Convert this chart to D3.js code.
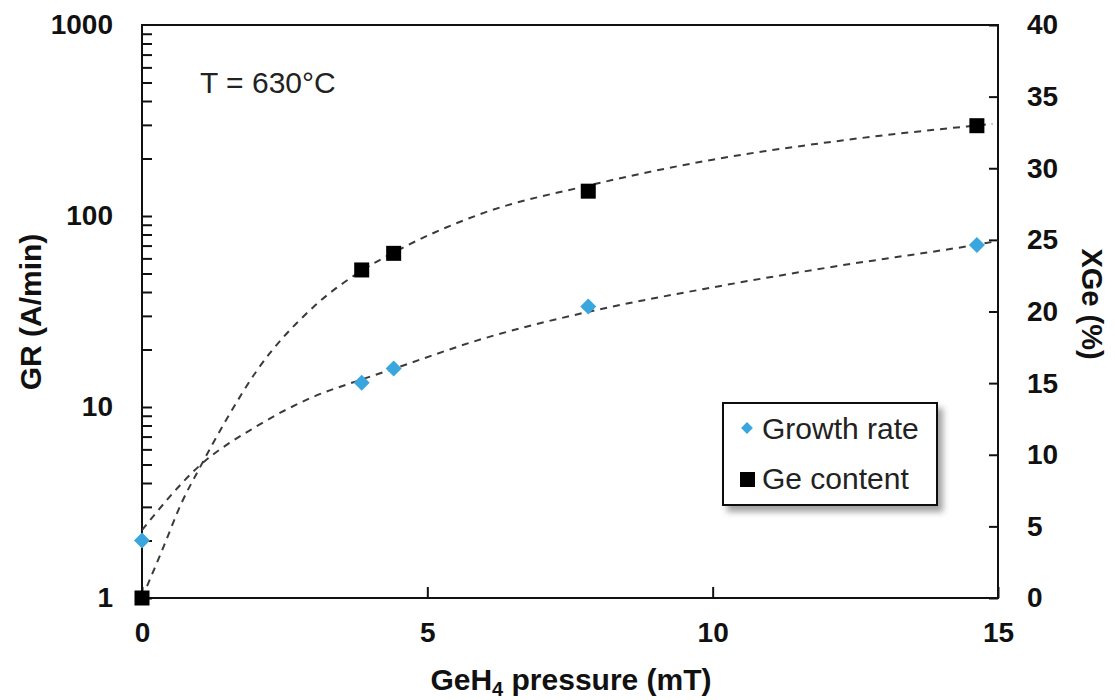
<!DOCTYPE html>
<html><head><meta charset="utf-8">
<script src="https://cdn.jsdelivr.net/npm/d3@7"></script>
<style>body{margin:0;background:#fff}</style>
</head><body><svg id="c" width="1115" height="700"></svg>
<script>
// ---- data ----
const pressure = [0, 3.85, 4.41, 7.82, 14.63];          // GeH4 pressure (mT)
const growthRate = [2.0, 13.4, 15.9, 33.6, 70.5];       // GR (A/min)
const geContent = [0, 22.9, 24.06, 28.4, 32.97];        // XGe (%)
// dashed guide curves
const grTrendX = [0, 1, 2, 3, 3.84, 4.42, 6, 7.8, 10, 12, 14.63, 15];
const grTrendY = [2.27, 4.9, 7.9, 11.3, 13.9, 15.9, 22.9, 31.4, 42.3, 53.6, 70.8, 74];
const geTrendX = [0, 0.35, 0.7, 1, 1.5, 2, 3, 3.87, 4.4, 6, 7.83, 10, 12, 14.9];
const geTrendY = [0, 3.3, 6.7, 9.0, 12.6, 15.8, 20.3, 22.9, 24.1, 26.9, 28.8, 30.6, 31.8, 33.1];
const xTicks = [0, 5, 10, 15];
const leftTicks = [1, 10, 100, 1000];
const rightTicks = [0, 5, 10, 15, 20, 25, 30, 35, 40];
const legendLabels = ["Growth rate", "Ge content"];

const svg = d3.select("#c");
const L = 142, R = 998, T = 25, B = 598;
const x = d3.scaleLinear().domain([0, 15]).range([L, R]);
const yL = d3.scaleLog().domain([1, 1000]).range([B, T]);
const yR = d3.scaleLinear().domain([0, 40]).range([B, T]);
const font = "'Liberation Sans', Arial, sans-serif";
const blue = "#39a7dd";

// filter for legend shadow
const defs = svg.append("defs");
const f = defs.append("filter").attr("id", "sh").attr("x", "-20%").attr("y", "-20%").attr("width", "150%").attr("height", "160%");
f.append("feDropShadow").attr("dx", 5).attr("dy", 6).attr("stdDeviation", 3).attr("flood-color", "#555").attr("flood-opacity", 0.55);
defs.append("clipPath").attr("id", "clip").append("rect").attr("x", L).attr("y", T).attr("width", R - L).attr("height", B - T);

// minor log ticks
const logTicks = [];
for (let d = 1; d < 1000; d *= 10) for (let k = 1; k <= 9; k++) logTicks.push(d * k);

const gL = svg.append("g").attr("transform", `translate(${L},0)`)
  .call(d3.axisLeft(yL).tickValues(logTicks).tickSize(-10).tickPadding(29)
    .tickFormat(d => leftTicks.includes(d) ? String(d) : ""));
gL.append("g").call(d3.axisLeft(yL).tickValues([1000]).tickSize(0).tickPadding(29).tickFormat(d => String(d)));
const gR = svg.append("g").attr("transform", `translate(${R},0)`)
  .call(d3.axisRight(yR).tickValues(rightTicks).tickSize(-9).tickPadding(29).tickFormat(d => String(d)));
const gB = svg.append("g").attr("transform", `translate(0,${B})`)
  .call(d3.axisBottom(x).tickValues(xTicks).tickSize(-11).tickPadding(27).tickFormat(d => String(d)));

[gL, gR, gB].forEach(g => {
  g.selectAll(".domain").remove();
  g.selectAll("line").attr("stroke", "#111").attr("stroke-width", 2);
  g.selectAll("text").attr("font-family", font).attr("font-weight", "bold").attr("font-size", 28).attr("fill", "#111");
});
gL.selectAll("text").attr("text-anchor", "end");
gR.selectAll("text").attr("text-anchor", "start");
gB.selectAll("text").attr("dy", "0.71em");
gB.selectAll(".tick text").attr("y", 24);

// frame
svg.append("rect").attr("x", L).attr("y", T).attr("width", R - L).attr("height", B - T)
  .attr("fill", "none").attr("stroke", "#111").attr("stroke-width", 2);

// trend curves
const plot = svg.append("g").attr("clip-path", "url(#clip)");
const lineGR = d3.line().x(d => x(d[0])).y(d => yL(d[1])).curve(d3.curveMonotoneX);
const lineGE = d3.line().x(d => x(d[0])).y(d => yR(d[1])).curve(d3.curveMonotoneX);
plot.append("path").datum(grTrendX.map((v, i) => [v, grTrendY[i]])).attr("d", lineGR)
  .attr("fill", "none").attr("stroke", "#3a3a3a").attr("stroke-width", 2).attr("stroke-dasharray", "7,6");
plot.append("path").datum(geTrendX.map((v, i) => [v, geTrendY[i]])).attr("d", lineGE)
  .attr("fill", "none").attr("stroke", "#3a3a3a").attr("stroke-width", 2).attr("stroke-dasharray", "7,6");

// markers
const diamond = d3.symbol().type(d3.symbolSquare).size(128);
svg.append("g").selectAll("path").data(pressure.map((v, i) => [v, growthRate[i]])).join("path")
  .attr("d", diamond).attr("fill", blue)
  .attr("transform", d => `translate(${x(d[0])},${yL(d[1])}) rotate(45)`);
svg.append("g").selectAll("rect").data(pressure.map((v, i) => [v, geContent[i]])).join("rect")
  .attr("x", d => x(d[0]) - 7.5).attr("y", d => yR(d[1]) - 7.5).attr("width", 15).attr("height", 15).attr("fill", "#000");

// annotation
svg.append("text").attr("x", 200).attr("y", 93).attr("font-family", font).attr("font-size", 30).attr("fill", "#222").text("T = 630°C");

// axis titles
const xt = svg.append("text").attr("x", 571).attr("y", 690).attr("text-anchor", "middle")
  .attr("font-family", font).attr("font-weight", "bold").attr("font-size", 30).attr("fill", "#111");
xt.append("tspan").text("GeH");
xt.append("tspan").attr("font-size", 20).attr("dy", 6).text("4");
xt.append("tspan").attr("dy", -6).text(" pressure (mT)");

svg.append("text").attr("transform", "translate(41,312) rotate(-90)").attr("text-anchor", "middle")
  .attr("font-family", font).attr("font-weight", "bold").attr("font-size", 30).attr("fill", "#111").text("GR (A/min)");
svg.append("text").attr("transform", "translate(1082,304) rotate(90)").attr("text-anchor", "middle")
  .attr("font-family", font).attr("font-weight", "bold").attr("font-size", 29).attr("fill", "#111").text("XGe (%)");

// legend
const lg = svg.append("g");
lg.append("rect").attr("x", 723).attr("y", 403).attr("width", 214).attr("height", 102)
  .attr("fill", "#fff").attr("stroke", "#111").attr("stroke-width", 2).attr("filter", "url(#sh)");
lg.append("path").attr("d", d3.symbol().type(d3.symbolSquare).size(70)).attr("fill", blue)
  .attr("transform", "translate(747,428) rotate(45)");
lg.append("rect").attr("x", 740).attr("y", 472).attr("width", 15).attr("height", 15).attr("fill", "#000");
lg.selectAll("text.l").data(legendLabels).join("text").attr("class", "l")
  .attr("x", 762).attr("y", (d, i) => 439 + i * 50)
  .attr("font-family", font).attr("font-size", 30).attr("fill", "#222").text(d => d);
</script></body></html>
